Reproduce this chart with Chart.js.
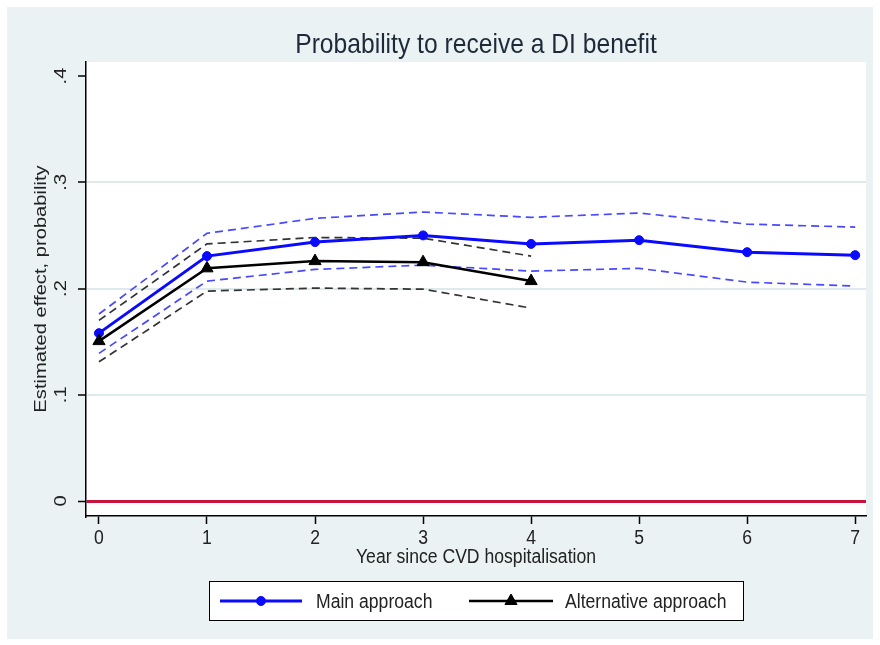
<!DOCTYPE html>
<html>
<head>
<meta charset="utf-8">
<title>Probability to receive a DI benefit</title>
<script src="https://cdn.jsdelivr.net/npm/chart.js@4/dist/chart.umd.min.js"></script>
<style>
  html, body { margin: 0; padding: 0; background: #ffffff; }
  #wrap { width: 880px; height: 645px; }
</style>
</head>
<body>
<div id="wrap"><canvas id="chart" width="880" height="645"></canvas></div>
<script>
// Years since hospitalisation
const years = [0, 1, 2, 3, 4, 5, 6, 7];
const altYears = [0, 1, 2, 3, 4];

// Main approach: point estimate and 95% confidence band
const mainEst   = [0.158, 0.2305, 0.2437, 0.2500, 0.2420, 0.2455, 0.2342, 0.2314];
const mainUpper = [0.176, 0.2520, 0.2660, 0.2720, 0.2670, 0.2710, 0.2606, 0.2578];
const mainLower = [0.139, 0.2070, 0.2180, 0.2220, 0.2164, 0.2190, 0.2060, 0.2023];

// Alternative approach: point estimate and 95% confidence band
const altEst   = [0.1505, 0.2190, 0.2258, 0.2248, 0.2070];
const altUpper = [0.1700, 0.2420, 0.2480, 0.2474, 0.2305];
const altLower = [0.1310, 0.1976, 0.2004, 0.1994, 0.1816];

// Axis ticks and labels
const xTicks = [0, 1, 2, 3, 4, 5, 6, 7];
const xTickLabels = ['0', '1', '2', '3', '4', '5', '6', '7'];
const yTicks = [0, 0.1, 0.2, 0.3, 0.4];
const yTickLabels = ['0', '.1', '.2', '.3', '.4'];

const titleText = 'Probability to receive a DI benefit';
const xTitle = 'Year since CVD hospitalisation';
const yTitle = 'Estimated effect, probability';
const seriesNames = ['Main approach', 'Alternative approach'];

const BLUE = '#0a0aff';
const BLUE_CI = '#4848ff';
const BLACK = '#000000';
const BLACK_CI = '#333333';
const ZERO_RED = '#c8143c';
const GRID = '#dfeaec';
const PANEL = '#eaf2f3';
const FONT = '"Liberation Sans", Arial, sans-serif';

const pts = (xs, ys) => xs.map((x, i) => ({ x: x, y: ys[i] }));

// Text helper: glyphs are slightly tall relative to their width
function drawText(ctx, text, x, y, size, opts) {
  opts = opts || {};
  ctx.save();
  ctx.translate(x, y);
  if (opts.rotate) ctx.rotate(opts.rotate);
  if (opts.rotate) ctx.scale(1.12, 0.88); else ctx.scale(0.88, 1);
  ctx.font = size + 'px ' + FONT;
  ctx.fillStyle = opts.color || '#222';
  ctx.textAlign = opts.align || 'center';
  ctx.textBaseline = opts.baseline || 'middle';
  ctx.fillText(text, 0, 0);
  ctx.restore();
}

const backdrop = {
  id: 'backdrop',
  beforeDraw(chart) {
    const { ctx, chartArea: a } = chart;
    ctx.save();
    ctx.fillStyle = '#ffffff';
    ctx.fillRect(0, 0, chart.width, chart.height);
    ctx.fillStyle = PANEL;
    ctx.fillRect(7, 7, 866, 632);
    ctx.fillStyle = '#ffffff';
    ctx.fillRect(a.left, a.top, a.right - a.left, a.bottom - a.top);
    ctx.restore();
  }
};

const annotations = {
  id: 'annotations',
  afterDraw(chart) {
    const { ctx, chartArea: a, scales } = chart;
    const cx = (a.left + a.right) / 2;
    // title
    drawText(ctx, titleText, cx, 45, 28, { color: '#1e2a3a' });
    // x tick labels
    xTicks.forEach((v, i) => {
      drawText(ctx, xTickLabels[i], scales.x.getPixelForValue(v), 538, 20);
    });
    // y tick labels, rotated
    yTicks.forEach((v, i) => {
      drawText(ctx, yTickLabels[i], 62, scales.y.getPixelForValue(v), 18, { rotate: -Math.PI / 2 });
    });
    // axis titles
    drawText(ctx, xTitle, cx, 557, 20);
    drawText(ctx, yTitle, 42, (a.top + a.bottom) / 2, 18, { rotate: -Math.PI / 2 });

    // legend
    const box = { l: 209, t: 581, r: 744, b: 621 };
    ctx.save();
    ctx.fillStyle = '#ffffff';
    ctx.fillRect(box.l, box.t, box.r - box.l, box.b - box.t);
    ctx.strokeStyle = '#000';
    ctx.lineWidth = 1;
    ctx.strokeRect(box.l + 0.5, box.t + 0.5, box.r - box.l - 1, box.b - box.t - 1);
    ctx.restore();
    const ly = (box.t + box.b) / 2;
    const items = [
      { ds: chart.data.datasets[1], x0: 220, x1: 302, tx: 316 },
      { ds: chart.data.datasets[0], x0: 469, x1: 553, tx: 565 }
    ];
    items.forEach(it => {
      ctx.save();
      ctx.strokeStyle = it.ds.borderColor;
      ctx.lineWidth = it.ds.borderWidth;
      ctx.beginPath();
      ctx.moveTo(it.x0, ly);
      ctx.lineTo(it.x1, ly);
      ctx.stroke();
      ctx.fillStyle = it.ds.pointBackgroundColor;
      ctx.strokeStyle = it.ds.pointBorderColor;
      ctx.lineWidth = 1;
      Chart.helpers.drawPoint(ctx, { pointStyle: it.ds.pointStyle, radius: it.ds.pointRadius, rotation: 0, borderWidth: 1 }, (it.x0 + it.x1) / 2, ly);
      ctx.restore();
      drawText(ctx, it.ds.label, it.tx, ly + 1, 20, { align: 'left' });
    });
  }
};

const ciLine = (label, xs, ys, color) => ({
  label: label,
  data: pts(xs, ys),
  borderColor: color,
  borderWidth: 1.7,
  borderDash: [8, 5],
  pointRadius: 0,
  pointHoverRadius: 0,
  fill: false,
  tension: 0
});

new Chart(document.getElementById('chart'), {
  type: 'line',
  data: {
    datasets: [
      {
        label: seriesNames[1],
        data: pts(altYears, altEst),
        borderColor: BLACK,
        borderWidth: 2.5,
        pointStyle: 'triangle',
        pointRadius: 7,
        pointBorderWidth: 1,
        pointBackgroundColor: BLACK,
        pointBorderColor: BLACK,
        tension: 0
      },
      {
        label: seriesNames[0],
        data: pts(years, mainEst),
        borderColor: BLUE,
        borderWidth: 3,
        pointStyle: 'circle',
        pointRadius: 4.5,
        pointBorderWidth: 1,
        pointBackgroundColor: BLUE,
        pointBorderColor: BLUE,
        tension: 0
      },
      ciLine('Main approach, upper', years, mainUpper, BLUE_CI),
      ciLine('Main approach, lower', years, mainLower, BLUE_CI),
      ciLine('Alternative approach, upper', altYears, altUpper, BLACK_CI),
      ciLine('Alternative approach, lower', altYears, altLower, BLACK_CI)
    ]
  },
  options: {
    responsive: false,
    animation: false,
    events: [],
    layout: { padding: { left: 0, top: 62, right: 14, bottom: 0 } },
    plugins: {
      legend: { display: false },
      title: { display: false },
      tooltip: { enabled: false }
    },
    scales: {
      x: {
        type: 'linear',
        min: -0.12,
        max: 7.1,
        afterBuildTicks: s => { s.ticks = xTicks.map(v => ({ value: v })); },
        afterFit: s => { s.height = 129; },
        ticks: { display: false },
        grid: {
          drawOnChartArea: false,
          drawTicks: true,
          tickLength: 8,
          tickColor: '#000',
          tickWidth: 1.5
        },
        border: { display: true, color: '#000', width: 1.5 }
      },
      y: {
        type: 'linear',
        min: -0.0141,
        max: 0.4132,
        afterBuildTicks: s => { s.ticks = yTicks.map(v => ({ value: v })); },
        afterFit: s => { s.width = 86; },
        ticks: { display: false },
        grid: {
          drawTicks: true,
          tickLength: 8,
          tickColor: '#000',
          tickWidth: 1.5,
          color: c => (c.tick && c.tick.value === 0) ? ZERO_RED
                    : (c.tick && c.tick.value > 0.35) ? 'rgba(0,0,0,0)' : GRID,
          lineWidth: c => (c.tick && c.tick.value === 0) ? 3 : 2
        },
        border: { display: true, color: '#000', width: 1.5 }
      }
    }
  },
  plugins: [backdrop, annotations]
});
</script>
</body>
</html>
